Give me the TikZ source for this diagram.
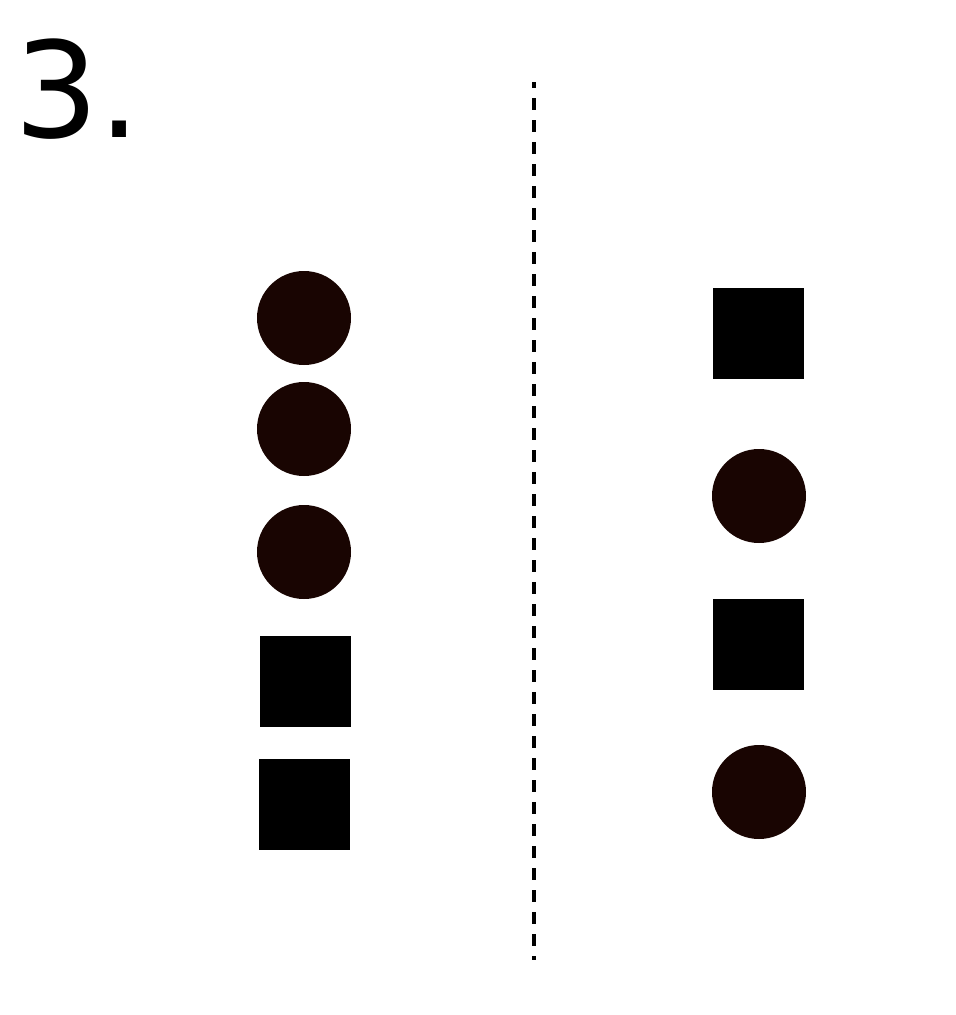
\documentclass[tikz,border=0pt]{standalone}
\usepackage{fontspec}
\setmainfont{DejaVu Sans}
\definecolor{darkbead}{RGB}{25,5,2}
\tikzset{
  bead/.style={circle,fill=darkbead,minimum size=94pt,inner sep=0pt},
  block/.style={rectangle,fill=black,minimum size=91pt,inner sep=0pt},
}
\begin{document}
\begin{tikzpicture}[x=1pt,y=-1pt]
  \useasboundingbox (0,0) rectangle (956,1015);
  \node[anchor=base west,inner sep=0pt,font=\fontsize{133}{133}\selectfont] (title) at (14,137) {3.};
  % left column
  \draw
    (304,318) node[bead] (l1){}
    (304,429) node[bead] (l2){}
    (304,552) node[bead] (l3){}
    (305.5,681.5) node[block] (l4){}
    (304.5,804.5) node[block] (l5){};
  % right column
  \draw
    (758.5,333.5) node[block] (r1){}
    (759,496) node[bead] (r2){}
    (758.5,644.5) node[block] (r3){}
    (759,792) node[bead] (r4){};
  % divider
  \coordinate (top) at (534,82);
  \coordinate (bottom) at (534,960);
  \draw[line width=3.2pt,dash pattern=on 12pt off 10pt,dash phase=6pt] (top) -- (bottom);
\end{tikzpicture}
\end{document}
